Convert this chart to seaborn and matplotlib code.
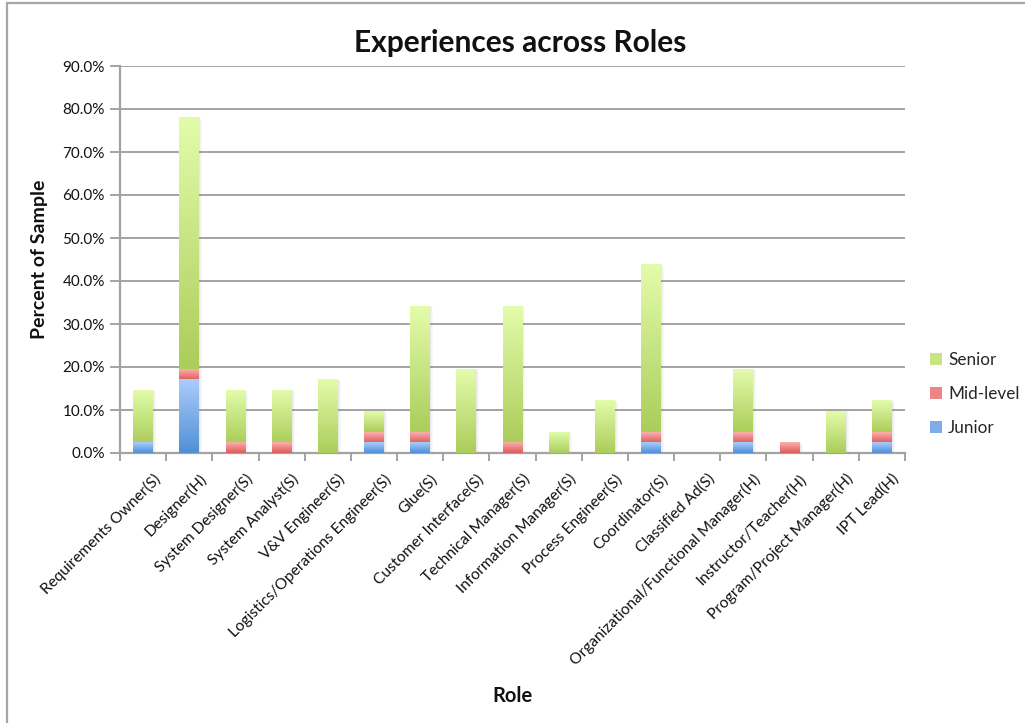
import numpy as np
import pandas as pd
import matplotlib
matplotlib.use("Agg")
import matplotlib.pyplot as plt
import seaborn as sns
from matplotlib.colors import LinearSegmentedColormap
from matplotlib.patches import Rectangle, Patch
from matplotlib.ticker import FixedLocator, PercentFormatter
import matplotlib.transforms as mtransforms

# Share of the sample (%) by role and experience level
roles = [
    "Requirements Owner(S)", "Designer(H)", "System Designer(S)", "System Analyst(S)",
    "V&V Engineer(S)", "Logistics/Operations Engineer(S)", "Glue(S)",
    "Customer Interface(S)", "Technical Manager(S)", "Information Manager(S)",
    "Process Engineer(S)", "Coordinator(S)", "Classified Ad(S)",
    "Organizational/Functional Manager(H)", "Instructor/Teacher(H)",
    "Program/Project Manager(H)", "IPT Lead(H)",
]
junior = [2.44, 17.07, 0, 0, 0, 2.44, 2.44, 0, 0, 0, 0, 2.44, 0, 2.44, 0, 0, 2.44]
mid_level = [0, 2.44, 2.44, 2.44, 0, 2.44, 2.44, 0, 2.44, 0, 0, 2.44, 0, 2.44, 2.44, 0, 2.44]
senior = [12.20, 58.54, 12.20, 12.20, 17.07, 4.88, 29.27, 19.51, 31.71, 4.88,
          12.20, 39.02, 0, 14.63, 0, 9.76, 7.32]
levels = ["Senior", "Mid-level", "Junior"]

# Gradient colours (top, bottom) for each level
shades = {
    "Senior": ("#e3fcab", "#abcd5a"),
    "Mid-level": ("#fbb0ac", "#dc5c5c"),
    "Junior": ("#acccfc", "#4f8fd6"),
}

sns.set_theme(style="white")
plt.rcParams["font.family"] = ["Lato", "DejaVu Sans"]

W, H = 1025, 723
fig = plt.figure(figsize=(W / 100, H / 100), dpi=100)
ax = fig.add_axes([120 / W, 1 - 453 / H, (905 - 120) / W, (453 - 66) / H])

df = pd.DataFrame({"Role": roles, "Junior": junior, "Mid-level": mid_level, "Senior": senior})
df["top_junior"] = df["Junior"]
df["top_mid"] = df["Junior"] + df["Mid-level"]
df["top_senior"] = df["top_mid"] + df["Senior"]

layers = [("Senior", "top_senior", "top_mid"),
          ("Mid-level", "top_mid", "top_junior"),
          ("Junior", "top_junior", None)]

bar_w = 0.43
grad = np.linspace(1, 0, 256).reshape(-1, 1)

# Overlaid cumulative bars; each visible segment is painted with a vertical gradient
for name, top_col, base_col in layers:
    n0 = len(ax.patches)
    sns.barplot(data=df, x="Role", y=top_col, color=shades[name][1], width=bar_w,
                errorbar=None, ax=ax, zorder=3)
    new = ax.patches[n0:]
    cmap = LinearSegmentedColormap.from_list(name, [shades[name][1], shades[name][0]])
    for i, p in enumerate(new):
        p.set_visible(False)
        top = p.get_height()
        base = 0.0 if base_col is None else df[base_col].iloc[i]
        if top - base <= 0:
            continue
        x0 = p.get_x()
        w = p.get_width()
        ax.imshow(grad, cmap=cmap, aspect="auto", interpolation="bicubic",
                  extent=[x0, x0 + w, base, top], zorder=3, vmin=0, vmax=1)

# Soft drop shadow to the right of each stack
for i, p in enumerate(ax.patches[:len(roles)]):
    total = df["top_senior"].iloc[i]
    if total <= 0:
        continue
    x0 = p.get_x() + p.get_width()
    for k, a in enumerate([0.18, 0.10, 0.05]):
        ax.add_patch(Rectangle((x0 + k * 0.022, 0), 0.022, total - 0.3 * k,
                               facecolor="#808080", alpha=a, edgecolor="none", zorder=2.5))

ax.set_xlim(-0.5, len(roles) - 0.5)
ax.set_ylim(0, 90)

# Axes, grid and ticks
grid_c = "#a3a3a3"
ax.yaxis.set_major_locator(FixedLocator(np.arange(0, 91, 10)))
ax.yaxis.set_major_formatter(PercentFormatter(decimals=1))
ax.grid(axis="y", color=grid_c, linewidth=1.4, zorder=1)
ax.set_axisbelow(True)
for s in ["top", "right"]:
    ax.spines[s].set_visible(False)
for s in ["left", "bottom"]:
    ax.spines[s].set_color(grid_c)
    ax.spines[s].set_linewidth(1.6)

ax.tick_params(axis="y", which="major", length=7, width=1.4, color=grid_c,
               direction="out", left=True, labelsize=11, pad=4, labelcolor="#111111")
ax.set_xticks(range(len(roles)))
ax.set_xticks(np.arange(-0.5, len(roles), 1), minor=True)
ax.tick_params(axis="x", which="major", length=0, labelsize=11.2, pad=2, labelcolor="#111111")
ax.tick_params(axis="x", which="minor", length=6, width=1.4, color=grid_c,
               direction="out", bottom=True)
offset = mtransforms.ScaledTranslation(15 / 100, -21 / 100, fig.dpi_scale_trans)
for lab in ax.get_xticklabels():
    lab.set_rotation(45)
    lab.set_ha("right")
    lab.set_va("center")
    lab.set_rotation_mode("anchor")
    lab.set_transform(lab.get_transform() + offset)

ax.set_xlabel("Role", fontsize=14.5, fontweight="bold", color="#111111")
ax.xaxis.set_label_coords(0.5, (453 - 686) / 387)
ax.set_ylabel("Percent of Sample", fontsize=14, fontweight="bold", color="#111111")
ax.yaxis.set_label_coords((48 - 120) / 785, 0.5)

ax.text((520 - 120) / 785, 1 + 23 / 387, "Experiences across Roles", transform=ax.transAxes,
        ha="center", va="center", fontsize=21.5, fontweight="bold", color="#111111")

# Legend
handles = []
for n in levels:
    c = 0.5 * np.array(matplotlib.colors.to_rgb(shades[n][0])) + \
        0.5 * np.array(matplotlib.colors.to_rgb(shades[n][1]))
    handles.append(Patch(facecolor=c, edgecolor="none", label=n))
fig.legend(handles=handles, loc="center left", bbox_to_anchor=(930 / W, 1 - 394 / H),
           frameon=False, fontsize=12.3, handlelength=0.7, handleheight=0.7,
           handletextpad=0.35, labelspacing=1.05, borderaxespad=0, borderpad=0)

# Outer chart frame
fig.patches.append(Rectangle((7 / W, -0.05), 1.2, 1 - 3 / H + 0.05, transform=fig.transFigure,
                             fill=False, edgecolor="#a6a6a6", linewidth=1.6, zorder=0))

fig.savefig("out.png", dpi=100)
